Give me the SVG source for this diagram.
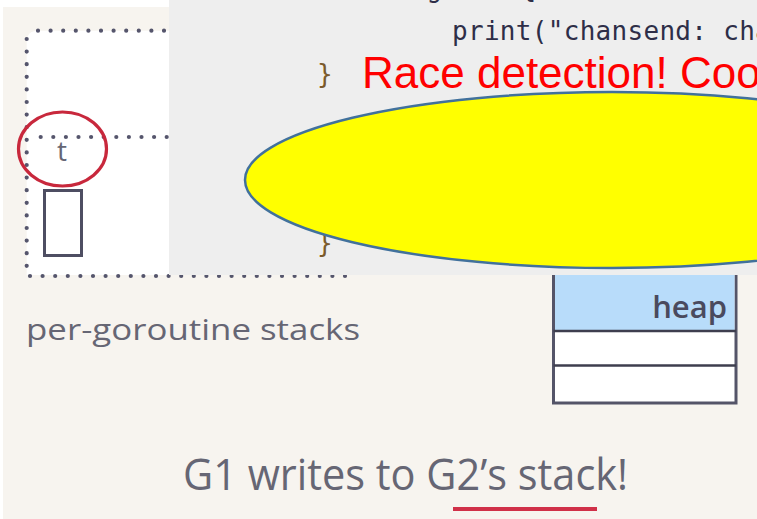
<svg xmlns="http://www.w3.org/2000/svg" width="757" height="519" viewBox="0 0 757 519">
<style>
.dot{fill:none;stroke:#55556c;stroke-width:4.2;stroke-linecap:round;stroke-dasharray:0 12.6}
.code{font-family:"DejaVu Sans Mono","Liberation Mono",monospace;font-size:26px;fill:#2e2e48}
.brace{font-family:"DejaVu Sans Mono","Liberation Mono",monospace;font-size:26px;fill:#7a5a2a}
.lbl{font-family:"Open Sans","Liberation Sans",sans-serif;fill:#666674}
</style>
<rect x="0" y="0" width="757" height="519" fill="#ffffff"/>
<rect x="3" y="7" width="754" height="512" fill="#f7f4ef"/>

<g id="stacks">
  <path d="M26.7,276 V42 Q26.7,30.7 38,30.7 H350 V276 Z" fill="#ffffff"/>
  <rect x="3" y="275" width="400" height="6" fill="#f7f4ef"/>
  <line class="dot" x1="26.7" y1="39" x2="26.7" y2="270"/>
  <line class="dot" x1="38" y1="30.7" x2="170" y2="30.7"/>
  <line class="dot" x1="40.7" y1="137" x2="170" y2="137"/>
  <line class="dot" x1="30" y1="276" x2="352" y2="276"/>
</g>

<g id="t-slot">
  <ellipse cx="62.5" cy="149" rx="44" ry="37" fill="none" stroke="#c8283c" stroke-width="3.2"/>
  <text class="lbl" x="62" y="161" font-size="28" text-anchor="middle" fill="#5e5e70">t</text>
  <rect x="44.5" y="190.5" width="37" height="65" fill="#ffffff" stroke="#4e4e62" stroke-width="3"/>
</g>

<g id="heap">
  <rect x="553.5" y="240" width="182.5" height="163" fill="#ffffff" stroke="#545468" stroke-width="3"/>
  <rect x="555" y="240" width="179.5" height="91" fill="#b8dcfa"/>
  <line x1="553.5" y1="331" x2="736" y2="331" stroke="#3e3e4e" stroke-width="2.5"/>
  <line x1="553.5" y1="365.5" x2="736" y2="365.5" stroke="#3e3e4e" stroke-width="2.5"/>
  <text x="727" y="318" font-family="Open Sans,Liberation Sans,sans-serif" font-size="31" font-weight="600" text-anchor="end" fill="#4a4a5e">heap</text>
</g>

<g id="code-panel">
  <rect x="169" y="0" width="588" height="275" fill="#eeeeee"/>
  <text class="code" x="317" y="-3">if debugChan {</text>
  <text class="code" x="452" y="40" letter-spacing="0.3">print("chansend: chan=", c, "\n")</text>
  <text class="brace" x="317" y="83">}</text>
  <text class="brace" x="317" y="252">}</text>
  <text x="362" y="88" font-family="Liberation Sans,Arial,sans-serif" font-size="44" fill="#ff0000">Race detection! Cool</text>
</g>

<g id="highlight">
  <ellipse cx="612" cy="180" rx="367" ry="88" fill="#ffff00" stroke="#41719c" stroke-width="2.5"/>
</g>

<g id="labels">
  <text class="lbl" x="26" y="340" font-size="29" textLength="334" lengthAdjust="spacingAndGlyphs">per-goroutine stacks</text>
  <text class="lbl" x="183" y="490" font-size="43" textLength="445" lengthAdjust="spacingAndGlyphs" fill="#5a5a6a">G1 writes to G2’s stack!</text>
  <line x1="453" y1="509" x2="597" y2="509" stroke="#d03048" stroke-width="4"/>
</g>
</svg>
